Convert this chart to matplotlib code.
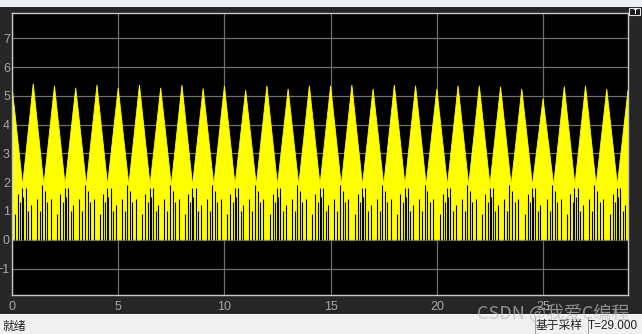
import numpy as np
import matplotlib
matplotlib.use('Agg')
import matplotlib.pyplot as plt
from matplotlib.patches import Rectangle

# peak times (s) and peak heights
peak_t = list(range(30))
peak_h = [5.35, 5.42, 5.35, 5.28, 5.38, 5.28, 5.38, 5.28, 5.38, 5.26,
          5.35, 5.20, 5.35, 5.24, 5.35, 5.35, 5.38, 5.24, 5.38, 5.35,
          5.24, 5.35, 5.35, 5.32, 5.24, 4.90, 5.33, 5.35, 5.24, 5.20]
trough_level = 1.9

# dark gaps inside one cycle (offset from the peak in s, gap height)
gap_off_a = [-0.44, -0.33, -0.16, 0.14, 0.28, 0.40, 0.48]
gap_h_a = [1.7, 1.3, 1.4, 0.9, 1.6, 1.3, 1.8]
gap_off_b = [-0.46, -0.36, -0.24, -0.12, 0.17, 0.31, 0.42]
gap_h_b = [1.5, 1.8, 1.0, 1.2, 1.4, 1.0, 1.9]

x_ticks = [0, 5, 10, 15, 20, 25]
y_ticks = [-1, 0, 1, 2, 3, 4, 5, 6, 7]

W, H = 642, 334
yellow = '#ffff00'
frame = '#262626'
grid_c = '#6f6f6f'
label_c = '#a8a8a8'

fig = plt.figure(figsize=(W / 100, H / 100), dpi=100)
fig.patch.set_facecolor(frame)

def px_rect(x, y, w, h, **kw):
    # rectangle in pixel coords (y from top)
    fig.patches.append(Rectangle((x / W, 1 - (y + h) / H), w / W, h / H,
                                 transform=fig.transFigure, figure=fig, **kw))

# top strip and status bar
px_rect(0, 0, W, 7, facecolor='#edf0f6', edgecolor='none')
px_rect(0, 315, W, 19, facecolor='#f0f0f0', edgecolor='none')
px_rect(0, 314, W, 1.2, facecolor='#ffffff', edgecolor='none')
px_rect(535, 317, 0.8, 17, facecolor='#a0a0a0', edgecolor='none')
px_rect(588, 317, 0.8, 17, facecolor='#a0a0a0', edgecolor='none')
# small restore button top right
px_rect(629, 8, 11, 7, facecolor='#1a1a1a', edgecolor='#e0e0e0', linewidth=0.8)
fig.text(634.5 / W, 1 - 11.5 / H, '↑', color='white', fontsize=6,
         ha='center', va='center', fontweight='bold')

ax = fig.add_axes([12 / W, 39 / H, 616 / W, 282 / H])
ax.set_facecolor('black')
ax.set_xlim(0, 29)
ax.set_ylim(-1.92, 7.88)

# scope trace: triangular bursts filled down to zero
for i, (t, h) in enumerate(zip(peak_t, peak_h)):
    xs = [t - 0.5, t - 0.5, t, t + 0.5, t + 0.5]
    ys = [0, trough_level, h, trough_level, 0]
    ax.fill(xs, ys, color=yellow, linewidth=0.6, edgecolor=yellow, zorder=2)
    offs, hs = (gap_off_a, gap_h_a) if i % 2 == 0 else (gap_off_b, gap_h_b)
    gx = [t + o for o in offs]
    ax.vlines(gx, 0, hs, color='black', linewidth=0.8, zorder=3)

ax.set_xticks(x_ticks)
ax.set_yticks(y_ticks)
ax.grid(True, color=grid_c, linewidth=0.9, zorder=1)
ax.set_axisbelow(True)
ax.tick_params(length=0, colors=label_c, labelsize=9, pad=4)
for lab in ax.get_xticklabels() + ax.get_yticklabels():
    lab.set_family('Liberation Sans')
ax.tick_params(axis='y', pad=1.5)
for s in ax.spines.values():
    s.set_color('#c8c8c8')
    s.set_linewidth(1.0)

cjk = ['Noto Sans CJK SC', 'DejaVu Sans']
fig.text(2 / W, 1 - 326 / H, '就绪', fontsize=8.5, family=cjk,
         color='#202020', va='center', ha='left')
fig.text(559 / W, 1 - 326 / H, '基于采样', fontsize=8.5, family=cjk,
         color='#202020', va='center', ha='center')
fig.text(613 / W, 1 - 326 / H, 'T=29.000', fontsize=8.5, family='Liberation Sans',
         color='#202020', va='center', ha='center')
# watermark
fig.text(553 / W, 1 - 313 / H, 'CSDN @我爱C编程', fontsize=13, family=cjk,
         color='#bdbdbd', alpha=0.7, va='center', ha='center')

fig.savefig('out.png', dpi=100, facecolor=fig.get_facecolor())
